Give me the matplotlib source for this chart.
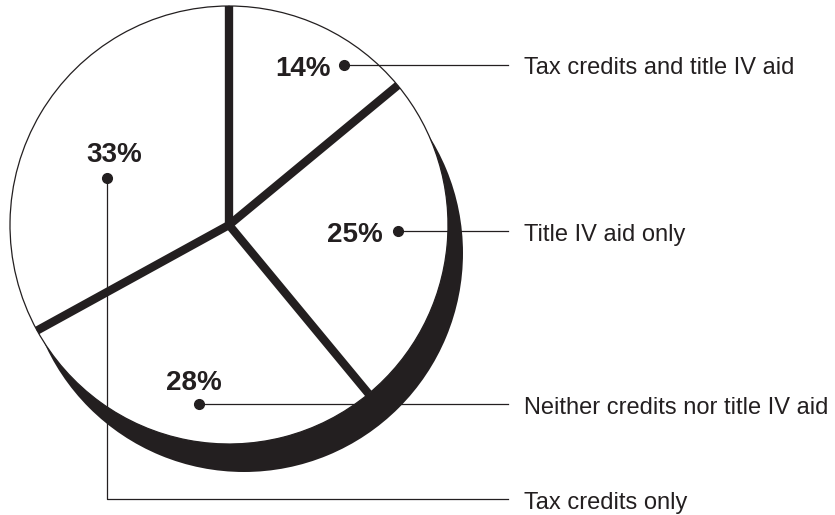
import numpy as np
import matplotlib.pyplot as plt

plt.rcParams['font.family'] = ['Liberation Sans', 'DejaVu Sans']

# data
shares = [14, 25, 28, 33]
categories = ["Tax credits and title IV aid", "Title IV aid only",
              "Neither credits nor title IV aid", "Tax credits only"]
pct_labels = [f"{s}%" for s in shares]

# layout (pixel coordinates, y measured from top)
W, H = 835, 515
pie_center = (229, 225)
pie_radius = 219
shadow_offset = (15, 28)
dot_xy = [(344, 65), (398, 231), (199, 404), (107, 178)]
pct_xy = [(303, 76), (355, 242), (194, 390), (114, 162)]
leader_y = [65, 231, 404, 499]
line_end_x = 508
text_x = 524

ink = '#231f20'


def Y(y):
    return H - y


fig = plt.figure(figsize=(W / 100, H / 100), dpi=100)
ax = fig.add_axes([0, 0, 1, 1])

cx, cy = pie_center[0], Y(pie_center[1])

# shadow behind the pie
ax.pie([1], colors=[ink], radius=pie_radius,
       center=(cx + shadow_offset[0], cy - shadow_offset[1]),
       wedgeprops=dict(linewidth=0))

# white wedges with thin outline
wedges, _ = ax.pie(shares, colors=['white'] * len(shares), radius=pie_radius,
                   center=(cx, cy), startangle=90, counterclock=False,
                   wedgeprops=dict(edgecolor=ink, linewidth=0.9))

# thick separators between the wedges
bounds = 90 - 360 * np.cumsum([0] + shares[:-1]) / 100
for a in bounds:
    t = np.radians(a)
    ax.plot([cx, cx + pie_radius * np.cos(t)], [cy, cy + pie_radius * np.sin(t)],
            color=ink, lw=6, solid_capstyle='butt', zorder=5)

# leader lines, dots, labels
for i, cat in enumerate(categories):
    dx, dy = dot_xy[i]
    ly = leader_y[i]
    if dy != ly:
        ax.plot([dx, dx, line_end_x], [Y(dy), Y(ly), Y(ly)], color=ink, lw=0.9, zorder=6)
    else:
        ax.plot([dx, line_end_x], [Y(ly), Y(ly)], color=ink, lw=0.9, zorder=6)
    ax.plot(dx, Y(dy), 'o', color=ink, ms=7, zorder=7)
    px, py = pct_xy[i]
    ax.text(px, Y(py), pct_labels[i], fontsize=20, fontweight='bold', color=ink,
            ha='center', va='baseline', zorder=8)
    ax.text(text_x, Y(ly + 9.5), cat, fontsize=17, color=ink,
            ha='left', va='baseline', zorder=8)

ax.set_xlim(0, W)
ax.set_ylim(0, H)
ax.set_aspect('equal')
ax.axis('off')

fig.savefig('out.png', dpi=100)
